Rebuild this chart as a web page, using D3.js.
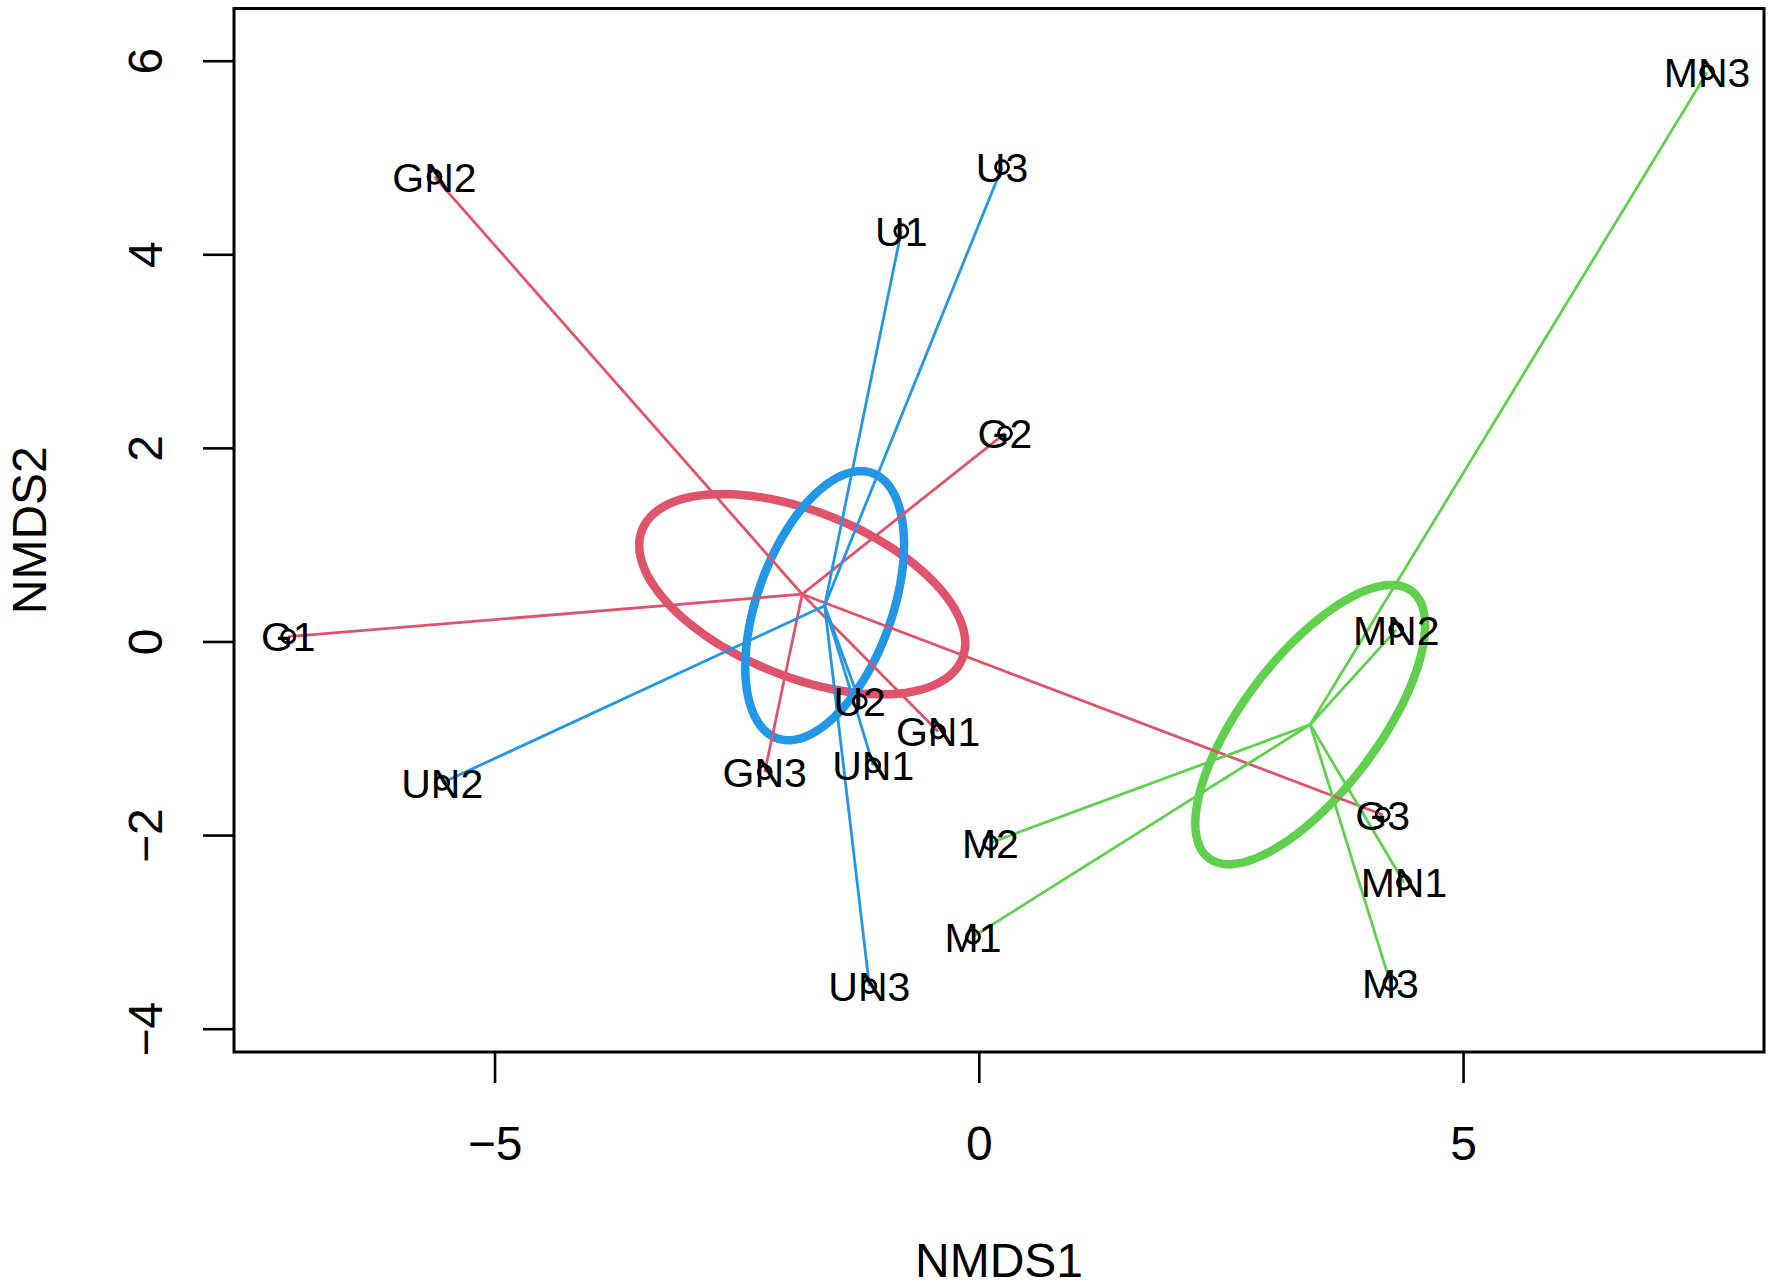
<!DOCTYPE html>
<html>
<head>
<meta charset="utf-8">
<script src="https://cdn.jsdelivr.net/npm/d3@7"></script>
<style>
  body { margin: 0; background: #fff; }
  svg { display: block; font-family: "Liberation Sans", Arial, Helvetica, sans-serif; }
</style>
</head>
<body>
<script>
var W = 1772;
var H = 1288;

// site scores
var sites = ["G1", "G2", "G3", "GN1", "GN2", "GN3",
   "M1", "M2", "M3", "MN1", "MN2", "MN3",
   "U1", "U2", "U3", "UN1", "UN2", "UN3"];
var nmds1 = [-7.13, 0.27, 4.17, -0.42, -5.62, -2.21,
   -0.06, 0.12, 4.25, 4.39, 4.31, 7.52,
   -0.80, -1.23, 0.24, -1.09, -5.54, -1.13];
var nmds2 = [0.05, 2.15, -1.79, -0.93, 4.80, -1.35,
   -3.05, -2.08, -3.53, -2.49, 0.12, 5.88,
   4.24, -0.62, 4.90, -1.28, -1.46, -3.56];
var siteGroup = ["G", "G", "G", "G", "G", "G",
   "M", "M", "M", "M", "M", "M",
   "U", "U", "U", "U", "U", "U"];
var groupNames = ["G", "M", "U"];
var groupColors = ["#DF536B", "#61D04F", "#2297E6"];
var xTicks = [-5, 0, 5];
var yTicks = [-4, -2, 0, 2, 4, 6];

// plot region (R style box)
var boxL = 234, boxR = 1764, boxT = 8.5, boxB = 1052;

var x = d3.scaleLinear().domain([-7.69, 8.107]).range([boxL, boxR]);
var y = d3.scaleLinear().domain([-4.241, 6.539]).range([boxB, boxT]);
var color = d3.scaleOrdinal().domain(groupNames).range(groupColors);

var svg = d3.select('body')
   .append('svg')
   .attr('width', W)
   .attr('height', H);

svg.append('rect')
   .attr('width', W)
   .attr('height', H)
   .attr('fill', '#fff');

var pts = sites.map(function(s, i) {
   return { name: s, x: nmds1[i], y: nmds2[i], g: siteGroup[i] };
});

// per group centroid and standard-error ellipse (like vegan ordiellipse kind = "se")
var groups = groupNames.map(function(g) {
   var p = pts.filter(function(d) { return d.g === g; });
   var n = p.length;
   var mx = d3.mean(p, function(d) { return d.x; });
   var my = d3.mean(p, function(d) { return d.y; });
   var sxx = d3.sum(p, function(d) { return (d.x - mx) * (d.x - mx); }) / (n - 1) / n;
   var syy = d3.sum(p, function(d) { return (d.y - my) * (d.y - my); }) / (n - 1) / n;
   var sxy = d3.sum(p, function(d) { return (d.x - mx) * (d.y - my); }) / (n - 1) / n;
   var r11 = Math.sqrt(sxx);
   var r12 = sxy / r11;
   var r22 = Math.sqrt(syy - r12 * r12);
   var ring = d3.range(0, 100).map(function(k) {
      var t = k / 100 * 2 * Math.PI;
      return [mx + r11 * Math.cos(t), my + r12 * Math.cos(t) + r22 * Math.sin(t)];
   });
   return { g: g, pts: p, cx: mx, cy: my, ring: ring };
});

var plot = svg.append('g');

// ellipses
var ell = d3.line()
   .x(function(d) { return x(d[0]); })
   .y(function(d) { return y(d[1]); })
   .curve(d3.curveLinearClosed);

plot.selectAll('path.ellipse')
   .data(groups)
   .enter()
   .append('path')
   .attr('class', 'ellipse')
   .attr('d', function(d) { return ell(d.ring); })
   .attr('fill', 'none')
   .attr('stroke', function(d) { return color(d.g); })
   .attr('stroke-width', 8.5);

// spiders
groups.forEach(function(gr) {
   plot.selectAll(null)
      .data(gr.pts)
      .enter()
      .append('line')
      .attr('x1', x(gr.cx))
      .attr('y1', y(gr.cy))
      .attr('x2', function(d) { return x(d.x); })
      .attr('y2', function(d) { return y(d.y); })
      .attr('stroke', color(gr.g))
      .attr('stroke-width', 2.8);
});

// points
plot.selectAll('circle')
   .data(pts)
   .enter()
   .append('circle')
   .attr('cx', function(d) { return x(d.x); })
   .attr('cy', function(d) { return y(d.y); })
   .attr('r', 6.5)
   .attr('fill', 'none')
   .attr('stroke', '#000')
   .attr('stroke-width', 2.8);

// site labels
plot.selectAll('text.site')
   .data(pts)
   .enter()
   .append('text')
   .attr('class', 'site')
   .text(function(d) { return d.name; })
   .attr('x', function(d) { return x(d.x); })
   .attr('y', function(d) { return y(d.y) + 14.8; })
   .attr('text-anchor', 'middle')
   .attr('font-size', '41px')
   .attr('fill', '#000');

// box
svg.append('rect')
   .attr('x', boxL)
   .attr('y', boxT)
   .attr('width', boxR - boxL)
   .attr('height', boxB - boxT)
   .attr('fill', 'none')
   .attr('stroke', '#000')
   .attr('stroke-width', 3);

var fmt = function(d) { return d < 0 ? '\u2212' + Math.abs(d) : d; };

// x axis
var xAxis = svg.append('g')
   .attr('transform', 'translate(0,' + boxB + ')')
   .call(d3.axisBottom(x).tickValues(xTicks).tickSize(31).tickPadding(43).tickFormat(fmt));
xAxis.select('.domain').remove();
xAxis.selectAll('line').attr('stroke', '#000').attr('stroke-width', 2.6);
xAxis.selectAll('text')
   .attr('font-size', '48px')
   .attr('font-family', '"Liberation Sans", Arial, sans-serif')
   .attr('fill', '#000');

// y axis with labels parallel to the axis, as in R
var yAxis = svg.append('g')
   .attr('transform', 'translate(' + boxL + ',0)')
   .call(d3.axisLeft(y).tickValues(yTicks).tickSize(31).tickFormat(fmt));
yAxis.select('.domain').remove();
yAxis.selectAll('line').attr('stroke', '#000').attr('stroke-width', 2.6);
yAxis.selectAll('text')
   .attr('x', null)
   .attr('dy', null)
   .attr('transform', 'translate(-72,0) rotate(-90)')
   .attr('text-anchor', 'middle')
   .attr('font-size', '48px')
   .attr('font-family', '"Liberation Sans", Arial, sans-serif')
   .attr('fill', '#000');

// axis titles
svg.append('text')
   .text('NMDS1')
   .attr('x', (boxL + boxR) / 2)
   .attr('y', 1277)
   .attr('text-anchor', 'middle')
   .attr('font-size', '48px');

svg.append('text')
   .text('NMDS2')
   .attr('transform', 'translate(46,' + (boxT + boxB) / 2 + ') rotate(-90)')
   .attr('text-anchor', 'middle')
   .attr('font-size', '48px');
</script>
</body>
</html>
